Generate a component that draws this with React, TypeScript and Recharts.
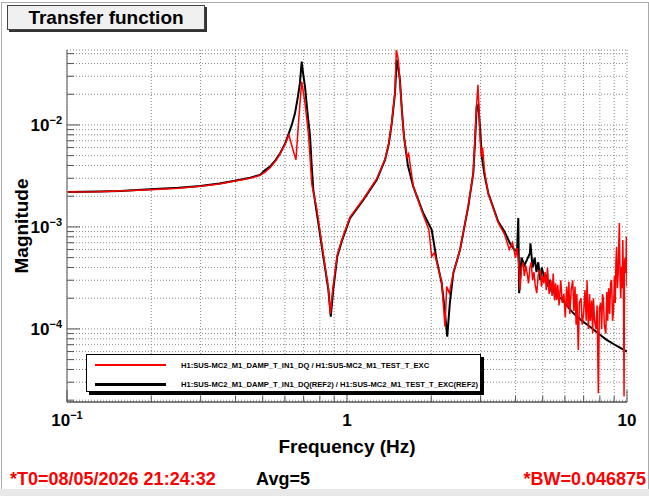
import { LineChart, Line, XAxis, YAxis, CartesianGrid, Legend } from "recharts";

// tick positions of the log axes
const freqTicks = [
  0.1, 0.2, 0.3, 0.4, 0.5, 0.6, 0.7, 0.8, 0.9,
  1, 2, 3, 4, 5, 6, 7, 8, 9, 10,
];
const magTicks = [
  2e-5, 3e-5, 4e-5, 5e-5, 6e-5, 7e-5, 8e-5, 9e-5,
  1e-4, 2e-4, 3e-4, 4e-4, 5e-4, 6e-4, 7e-4, 8e-4, 9e-4,
  1e-3, 2e-3, 3e-3, 4e-3, 5e-3, 6e-3, 7e-3, 8e-3, 9e-3,
  1e-2, 2e-2, 3e-2, 4e-2, 5e-2,
];

// reference trace (REF2), black
const refFreq = [
  0.1, 0.13, 0.155, 0.198, 0.25, 0.299, 0.35, 0.398, 0.451, 0.489,
  0.51, 0.531, 0.555, 0.577, 0.6, 0.617, 0.635, 0.652, 0.668, 0.679,
  0.689, 0.698, 0.708, 0.723, 0.738, 0.748, 0.758, 0.79, 0.823, 0.858,
  0.875, 0.893, 0.923, 0.957, 1.025, 1.144, 1.276, 1.367, 1.41, 1.445,
  1.484, 1.505, 1.525, 1.545, 1.57, 1.598, 1.65, 1.725, 1.873, 2.007,
  2.09, 2.178, 2.23, 2.28, 2.33, 2.397, 2.533, 2.71, 2.825, 2.87,
  2.904, 2.944, 2.99, 3.03, 3.1, 3.196, 3.467, 3.65, 3.82, 3.95,
  4.05, 4.09, 4.12, 4.2, 4.3, 4.4, 4.5, 4.52, 4.6, 4.68,
  4.75, 4.82, 4.9, 4.96, 5.02, 5.08, 5.15, 5.22, 5.3, 5.38,
  5.45, 5.52, 5.61, 5.7, 5.8, 6.0, 6.2, 6.43, 6.9, 7.38,
  7.9, 8.46, 9.2, 10,
];
const refMag = [
  0.0022, 0.00222, 0.00225, 0.00234, 0.00242, 0.00252, 0.00266, 0.00284, 0.00304, 0.00324,
  0.00362, 0.0039, 0.0045, 0.00527, 0.0065, 0.00798, 0.01, 0.013, 0.019, 0.0257,
  0.0418, 0.031, 0.0238, 0.013, 0.00768, 0.004, 0.00231, 0.00109, 0.000512, 0.000241,
  0.000132, 0.000241, 0.000512, 0.000718, 0.00122, 0.00184, 0.00289, 0.00454, 0.0065, 0.0104,
  0.0205, 0.0434, 0.036, 0.0276, 0.014, 0.00768, 0.004, 0.00248, 0.00136, 0.000935,
  0.000475, 0.000281, 0.00016, 0.0000841, 0.00018, 0.000352, 0.000596, 0.00158, 0.00336, 0.0075,
  0.0151, 0.0157, 0.009, 0.00489, 0.0032, 0.00214, 0.00113, 0.0009, 0.000692, 0.0006,
  0.00058, 0.00122, 0.000224, 0.0005, 0.00042, 0.00048, 0.000552, 0.00069, 0.0004, 0.0005,
  0.00036, 0.00045, 0.0003, 0.0004, 0.000352, 0.0003, 0.00034, 0.00026, 0.00029, 0.00023,
  0.00027, 0.00021, 0.000224, 0.0002, 0.0002, 0.00018, 0.00016, 0.000143, 0.00012, 0.000105,
  0.00009, 0.000078, 0.000068, 0.00006,
];

// current measurement, red
const curFreq = [
  0.1, 0.13, 0.16, 0.2, 0.25, 0.299, 0.35, 0.398, 0.451, 0.489,
  0.51, 0.531, 0.555, 0.577, 0.6, 0.62, 0.638, 0.657, 0.672, 0.689,
  0.708, 0.728, 0.749, 0.78, 0.823, 0.858, 0.872, 0.89, 0.923, 0.957,
  1.025, 1.144, 1.276, 1.367, 1.41, 1.445, 1.484, 1.5, 1.515, 1.525,
  1.545, 1.57, 1.598, 1.64, 1.66, 1.725, 1.873, 1.96, 2.007, 2.05,
  2.178, 2.239, 2.27, 2.32, 2.397, 2.533, 2.71, 2.825, 2.9, 2.935,
  2.96, 2.99, 3.02, 3.05, 3.1, 3.196, 3.467, 3.65, 3.8, 3.9,
  4.0, 4.05, 4.1, 4.15, 4.2, 4.25, 4.3, 4.35, 4.4, 4.45,
  4.5, 4.55, 4.6, 4.65, 4.7, 4.76, 4.82, 4.9, 4.95, 5.0,
  5.05, 5.1, 5.15, 5.2, 5.27, 5.35, 5.4, 5.45, 5.52, 5.56,
  5.61, 5.66, 5.72, 5.8, 5.87, 5.95, 6.02, 6.09, 6.15, 6.2,
  6.25, 6.32, 6.4, 6.46, 6.52, 6.58, 6.62, 6.7, 6.76, 6.85,
  6.92, 7.0, 7.08, 7.15, 7.2, 7.28, 7.35, 7.4, 7.48, 7.54,
  7.59, 7.66, 7.75, 7.82, 7.9, 7.97, 8.05, 8.12, 8.18, 8.24,
  8.3, 8.4, 8.47, 8.53, 8.6, 8.67, 8.74, 8.81, 8.88, 8.95,
  9.02, 9.08, 9.13, 9.18, 9.24, 9.3, 9.35, 9.39, 9.45, 9.5,
  9.56, 9.61, 9.66, 9.71, 9.76, 9.8, 9.85, 9.91, 9.95, 10,
];
const curMag = [
  0.0022, 0.00221, 0.00226, 0.00232, 0.0024, 0.0025, 0.00264, 0.00282, 0.003, 0.0032,
  0.00345, 0.0038, 0.0044, 0.0052, 0.0064, 0.008, 0.006, 0.00454, 0.011, 0.0266,
  0.0163, 0.0083, 0.0026, 0.0015, 0.00054, 0.00025, 0.00014, 0.00025, 0.00053, 0.00074,
  0.00125, 0.00188, 0.00295, 0.0046, 0.0066, 0.0106, 0.021, 0.054, 0.048, 0.043,
  0.027, 0.014, 0.0076, 0.0048, 0.0052, 0.0025, 0.0013, 0.00094, 0.000512, 0.00056,
  0.00029, 0.000105, 0.00026, 0.000224, 0.000352, 0.0006, 0.0016, 0.0034, 0.015, 0.0247,
  0.015, 0.007, 0.00489, 0.006, 0.0035, 0.0021, 0.0011, 0.00085, 0.0006, 0.0007,
  0.0005, 0.00062, 0.00045, 0.000241, 0.0004, 0.00045, 0.00033, 0.00042, 0.00035, 0.00028,
  0.0004, 0.00045, 0.0003, 0.00036, 0.00027, 0.000224, 0.00034, 0.00038, 0.00026, 0.00033,
  0.00028, 0.00036, 0.00024, 0.0004, 0.00022, 0.0003, 0.00021, 0.00035, 0.00019, 0.00028,
  0.000192, 0.00027, 0.00017, 0.0003, 0.00018, 0.00022, 0.00013, 0.00026, 0.00016, 0.00029,
  0.00014, 0.00024, 0.0003, 0.00015, 0.00026, 0.00011, 0.00022, 0.000062, 0.00018, 0.0002,
  0.00011, 0.000143, 0.00024, 0.00012, 0.0003, 0.0001, 0.00022, 0.00012, 0.00019, 0.00009,
  0.0002, 0.00012, 0.0001, 0.00017, 0.0000234, 0.00016, 0.00018, 0.0001, 0.00022, 0.000192,
  0.00011, 0.00009, 0.00023, 0.00012, 0.00025, 0.00014, 0.00028, 0.000302, 0.00012, 0.00015,
  0.00033, 0.00018, 0.00045, 0.00064, 0.00025, 0.00035, 0.0007, 0.00109, 0.0003, 0.0002,
  0.000408, 0.00025, 0.000746, 0.0003, 0.0000217, 0.00045, 0.0005, 0.000352, 0.0008, 0.00026,
];

const refData = refFreq.map((f, i) => ({ f, m: refMag[i] }));
const curData = curFreq.map((f, i) => ({ f, m: curMag[i] }));

const FONT = "'Liberation Sans', Arial, Helvetica, sans-serif";

const isDecade = (v: number) => {
  const l = Math.log10(v);
  return Math.abs(l - Math.round(l)) < 1e-6;
};

function FreqTick(props: any) {
  const { x, y, payload, side } = props;
  const v = payload.value;
  const major = isDecade(v);
  const len = major ? 12 : 6;
  const dir = side === "top" ? 1 : -1;
  const exp = Math.round(Math.log10(v));
  return (
    <g>
      <line x1={x} x2={x} y1={y} y2={y + dir * len} stroke="#555" strokeWidth={1} />
      {side === "bottom" && major && (
        <text x={x} y={y + 24} textAnchor="middle" fontFamily={FONT} fontWeight="bold" fontSize={17} fill="#000">
          {exp < 0 ? (
            <>
              <tspan>10</tspan>
              <tspan dy={-7} fontSize={11}>{"\u2212" + -exp}</tspan>
            </>
          ) : (
            String(v)
          )}
        </text>
      )}
    </g>
  );
}

function MagTick(props: any) {
  const { x, y, payload, side } = props;
  const v = payload.value;
  const major = isDecade(v);
  const len = major ? 13 : 7;
  const dir = side === "left" ? 1 : -1;
  const exp = Math.round(Math.log10(v));
  return (
    <g>
      <line x1={x} x2={x + dir * len} y1={y} y2={y} stroke="#555" strokeWidth={1} />
      {side === "left" && major && (
        <text x={x - 5} y={y + 6} textAnchor="end" fontFamily={FONT} fontWeight="bold" fontSize={17} fill="#000">
          <tspan>10</tspan>
          <tspan dy={-7} fontSize={11}>{"\u2212" + -exp}</tspan>
        </text>
      )}
    </g>
  );
}

function MagLabel(props: any) {
  const { viewBox } = props;
  const cx = viewBox.x + 14;
  const cy = viewBox.y + viewBox.height / 2;
  return (
    <text x={cx} y={cy} transform={`rotate(-90 ${cx} ${cy})`} textAnchor="middle" dominantBaseline="central"
      fontFamily={FONT} fontWeight="bold" fontSize={19} fill="#000">
      Magnitude
    </text>
  );
}

function LegendBox(props: any) {
  const items = props.payload || [];
  return (
    <div style={{ position: "relative", width: 395, height: 38 }}>
      <div style={{ position: "absolute", left: 3, top: 3, width: 395, height: 38, background: "#000" }} />
      <div style={{ position: "absolute", left: 0, top: 0, width: 393, height: 36, background: "#fff", border: "1px solid #000" }}>
        {items.map((it: any, i: number) => (
          <div key={i} style={{ position: "absolute", left: 8, top: 4 + i * 19, height: 12, display: "flex", alignItems: "center" }}>
            <div style={{ width: 71, height: it.color === "#000" ? 3 : 2, background: it.color }} />
            <span style={{ marginLeft: 15, fontFamily: FONT, fontWeight: "bold", fontSize: 7.6, color: "#000", whiteSpace: "nowrap" }}>
              {it.value}
            </span>
          </div>
        ))}
      </div>
    </div>
  );
}

export default function App() {
  return (
    <div style={{ position: "absolute", left: 0, top: 0, width: 649, height: 496, background: "#fff", overflow: "hidden" }}>
      <div style={{ position: "absolute", left: 1, top: 2, width: 646, height: 486, borderLeft: "1px solid #aaa", borderTop: "1px solid #aaa", borderRight: "1px solid #aaa" }} />
      <div style={{ position: "absolute", left: 0, top: 489, width: 649, height: 7, background: "#e8e8e8" }} />

      <LineChart width={649} height={496} margin={{ top: 50, right: 22, bottom: 40, left: 7 }} style={{ position: "absolute", left: 0, top: 0 }}>
        <CartesianGrid stroke="#888" strokeDasharray="1 2" strokeWidth={1} xAxisId="bottom" yAxisId="left" />
        <XAxis
          xAxisId="bottom"
          dataKey="f"
          type="number"
          scale="log"
          domain={[0.1, 10]}
          ticks={freqTicks}
          allowDataOverflow
          interval={0}
          height={54}
          tickSize={0}
          tickMargin={0}
          tickLine={false}
          axisLine={{ stroke: "#555", strokeWidth: 1.5 }}
          tick={<FreqTick side="bottom" />}
          label={{ value: "Frequency (Hz)", position: "insideBottom", offset: 3, fontFamily: FONT, fontWeight: "bold", fontSize: 19, fill: "#000" }}
        />
        <XAxis
          xAxisId="top"
          orientation="top"
          dataKey="f"
          type="number"
          scale="log"
          domain={[0.1, 10]}
          ticks={freqTicks}
          allowDataOverflow
          interval={0}
          height={0}
          tickSize={0}
          tickMargin={0}
          tickLine={false}
          axisLine={{ stroke: "#999", strokeWidth: 1.5 }}
          tick={<FreqTick side="top" />}
        />
        <YAxis
          yAxisId="left"
          dataKey="m"
          type="number"
          scale="log"
          domain={[1.92e-5, 0.0543]}
          ticks={magTicks}
          allowDataOverflow
          interval={0}
          width={60}
          tickSize={0}
          tickMargin={0}
          tickLine={false}
          axisLine={{ stroke: "#888", strokeWidth: 1.5 }}
          tick={<MagTick side="left" />}
          label={{ content: <MagLabel /> }}
        />
        <YAxis
          yAxisId="right"
          orientation="right"
          dataKey="m"
          type="number"
          scale="log"
          domain={[1.92e-5, 0.0543]}
          ticks={magTicks}
          allowDataOverflow
          interval={0}
          width={0}
          tickSize={0}
          tickMargin={0}
          tickLine={false}
          axisLine={{ stroke: "#000", strokeWidth: 1.5 }}
          tick={<MagTick side="right" />}
        />
        <Line
          xAxisId="bottom"
          yAxisId="left"
          data={refData}
          dataKey="m"
          name="H1:SUS-MC2_M1_DAMP_T_IN1_DQ(REF2) / H1:SUS-MC2_M1_TEST_T_EXC(REF2)"
          stroke="#000"
          strokeWidth={2}
          dot={false}
          type="linear"
          isAnimationActive={false}
        />
        <Line
          xAxisId="bottom"
          yAxisId="left"
          data={curData}
          dataKey="m"
          name="H1:SUS-MC2_M1_DAMP_T_IN1_DQ / H1:SUS-MC2_M1_TEST_T_EXC"
          stroke="#ff0000"
          strokeWidth={1.5}
          dot={false}
          type="linear"
          isAnimationActive={false}
        />
        <Legend
          layout="horizontal"
          align="center"
          verticalAlign="middle"
          itemSorter={(item: any) => (item.color === "#000" ? 1 : 0)}
          content={<LegendBox />}
          wrapperStyle={{ left: 86, top: 354, width: 398, height: 41 }}
        />
      </LineChart>

      <div style={{ position: "absolute", left: 7, top: 5, width: 196, height: 23, background: "#f0f0f0", border: "1px solid #444", boxShadow: "2px 2px 0 #333", fontFamily: FONT, fontWeight: "bold", fontSize: 19, lineHeight: "23px", textAlign: "center", color: "#000" }}>
        Transfer function
      </div>

      <div style={{ position: "absolute", left: 10, top: 469, fontFamily: FONT, fontWeight: "bold", fontSize: 18, color: "#ff0000", whiteSpace: "nowrap" }}>
        *T0=08/05/2026 21:24:32
      </div>
      <div style={{ position: "absolute", left: 283, top: 469, transform: "translateX(-50%)", fontFamily: FONT, fontWeight: "bold", fontSize: 18, color: "#000", whiteSpace: "nowrap" }}>
        Avg=5
      </div>
      <div style={{ position: "absolute", right: 3, top: 469, fontFamily: FONT, fontWeight: "bold", fontSize: 18, color: "#ff0000", whiteSpace: "nowrap" }}>
        *BW=0.046875
      </div>
    </div>
  );
}
